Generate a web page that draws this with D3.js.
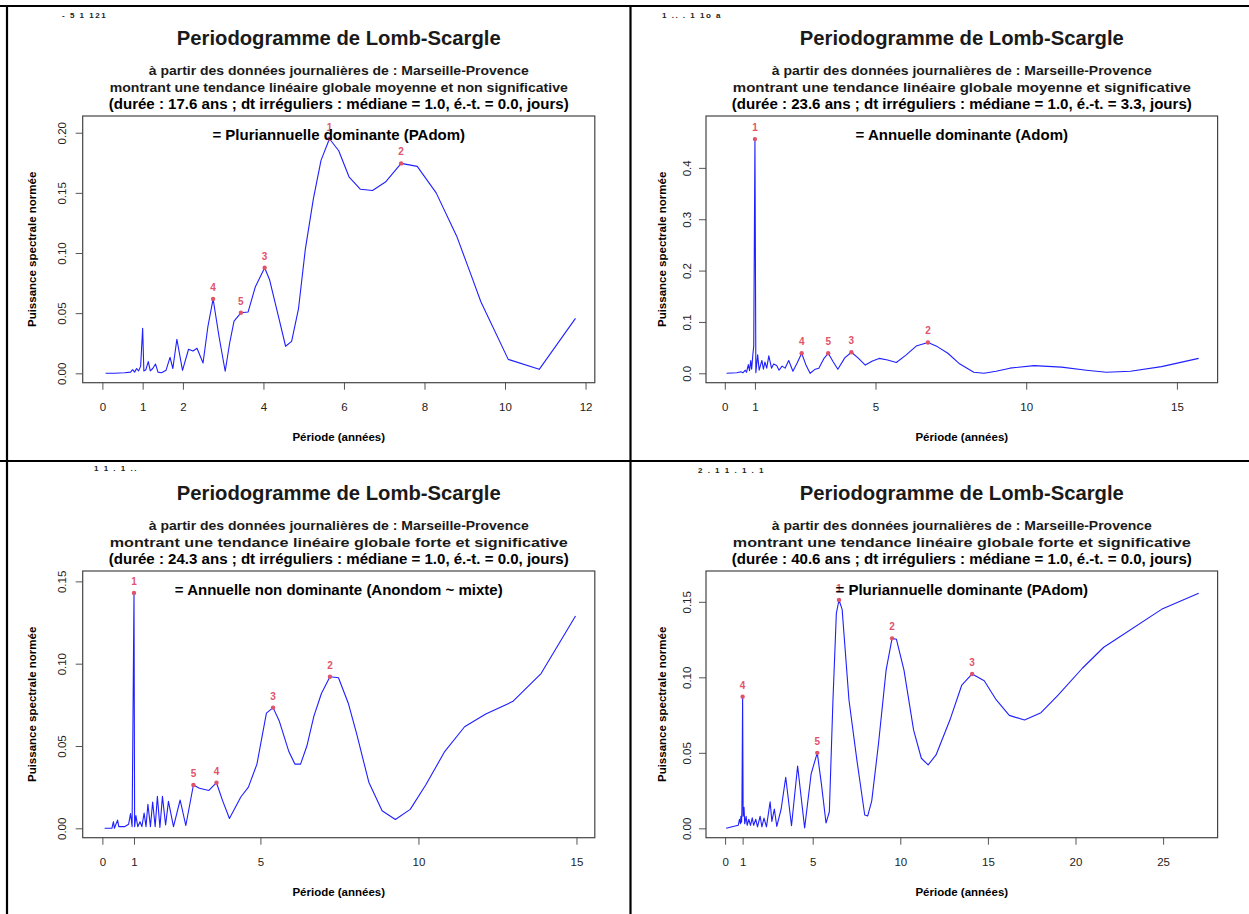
<!DOCTYPE html>
<html>
<head>
<meta charset="utf-8">
<script src="https://cdn.jsdelivr.net/npm/d3@7"></script>
<style>
  html, body { margin: 0; padding: 0; background: #fff; }
  svg { display: block; font-family: "Liberation Sans", Arial, sans-serif; }
</style>
</head>
<body>
<svg id="chart" width="1249" height="914"></svg>
<script>
// ---- data ----
const p1Period = [0.08, 0.30, 0.55, 0.70, 0.75, 0.80, 0.85, 0.90, 0.95, 1.00, 1.03, 1.08, 1.14, 1.19, 1.25, 1.32, 1.38, 1.47, 1.58, 1.68, 1.75, 1.85, 1.99, 2.14, 2.25, 2.35, 2.50, 2.62, 2.75, 2.90, 3.05, 3.16, 3.27, 3.44, 3.62, 3.80, 4.03, 4.15, 4.38, 4.55, 4.70, 4.87, 5.04, 5.24, 5.43, 5.64, 5.87, 6.13, 6.41, 6.71, 7.03, 7.42, 7.82, 8.29, 8.80, 9.14, 9.40, 10.08, 10.85, 11.75];
const p1Power = [0.000, 0.000, 0.0005, 0.001, 0.003, 0.001, 0.004, 0.002, 0.006, 0.0374, 0.002, 0.003, 0.0097, 0.002, 0.004, 0.0077, 0.001, 0.0005, 0.0025, 0.0133, 0.004, 0.0283, 0.0025, 0.020, 0.0185, 0.0208, 0.0086, 0.0387, 0.0618, 0.030, 0.0017, 0.025, 0.0434, 0.0503, 0.051, 0.072, 0.0878, 0.078, 0.0463, 0.0225, 0.0266, 0.0535, 0.103, 0.145, 0.177, 0.195, 0.185, 0.163, 0.153, 0.152, 0.159, 0.1745, 0.172, 0.150, 0.114, 0.0833, 0.0595, 0.0116, 0.0033, 0.0457];
const p1PeakRank = [1, 2, 3, 4, 5];
const p1PeakPeriod = [5.64, 7.42, 4.03, 2.75, 3.44];
const p1PeakPower = [0.195, 0.1745, 0.0878, 0.0618, 0.0503];

const p2Period = [0.06, 0.40, 0.53, 0.60, 0.68, 0.72, 0.78, 0.82, 0.86, 0.89, 0.93, 0.96, 1.00, 1.03, 1.09, 1.14, 1.23, 1.28, 1.33, 1.39, 1.46, 1.55, 1.62, 1.72, 1.80, 1.90, 2.00, 2.12, 2.26, 2.40, 2.55, 2.70, 2.83, 3.00, 3.12, 3.28, 3.43, 3.60, 3.75, 3.98, 4.20, 4.42, 4.66, 4.90, 5.12, 5.40, 5.69, 6.00, 6.35, 6.74, 7.05, 7.40, 7.80, 8.26, 8.60, 9.00, 9.46, 10.26, 11.17, 12.00, 12.66, 13.46, 14.49, 15.72];
const p2Power = [0.000, 0.001, 0.003, 0.001, 0.006, 0.002, 0.017, 0.005, 0.025, 0.008, 0.036, 0.053, 0.456, 0.001, 0.036, 0.006, 0.025, 0.008, 0.022, 0.010, 0.034, 0.010, 0.018, 0.015, 0.006, 0.014, 0.010, 0.025, 0.004, 0.020, 0.039, 0.015, 0.000, 0.008, 0.010, 0.028, 0.039, 0.022, 0.008, 0.030, 0.041, 0.030, 0.016, 0.024, 0.029, 0.026, 0.021, 0.035, 0.053, 0.060, 0.052, 0.039, 0.018, 0.002, 0.000, 0.004, 0.010, 0.015, 0.012, 0.006, 0.002, 0.004, 0.013, 0.029];
const p2PeakRank = [1, 2, 3, 4, 5];
const p2PeakPeriod = [1.00, 6.74, 4.20, 2.55, 3.43];
const p2PeakPower = [0.456, 0.060, 0.041, 0.039, 0.039];

const p3Period = [0.07, 0.30, 0.35, 0.38, 0.48, 0.52, 0.70, 0.83, 0.89, 0.94, 1.00, 1.02, 1.06, 1.12, 1.19, 1.25, 1.32, 1.38, 1.44, 1.52, 1.59, 1.67, 1.74, 1.82, 1.90, 2.00, 2.09, 2.25, 2.46, 2.64, 2.88, 3.07, 3.37, 3.61, 3.80, 4.02, 4.38, 4.62, 4.89, 5.19, 5.40, 5.60, 5.90, 6.09, 6.27, 6.47, 6.69, 6.93, 7.20, 7.47, 7.78, 8.05, 8.43, 8.85, 9.27, 9.74, 10.23, 10.83, 11.46, 12.13, 12.98, 13.88, 14.97];
const p3Power = [0.000, 0.000, 0.004, 0.000, 0.005, 0.001, 0.001, 0.0025, 0.009, 0.001, 0.143, 0.001, 0.0077, 0.001, 0.004, 0.001, 0.0093, 0.001, 0.0146, 0.001, 0.016, 0.001, 0.0194, 0.0005, 0.0194, 0.002, 0.0164, 0.001, 0.0172, 0.0017, 0.0263, 0.0243, 0.023, 0.0277, 0.017, 0.006, 0.019, 0.025, 0.039, 0.070, 0.0733, 0.065, 0.0466, 0.039, 0.039, 0.050, 0.068, 0.0819, 0.0921, 0.0915, 0.076, 0.057, 0.028, 0.0107, 0.0054, 0.0115, 0.0263, 0.0466, 0.0617, 0.0694, 0.077, 0.094, 0.129];
const p3PeakRank = [1, 2, 3, 4, 5];
const p3PeakPeriod = [1.00, 7.20, 5.40, 3.61, 2.88];
const p3PeakPower = [0.143, 0.0921, 0.0733, 0.0277, 0.0263];

const p4Period = [0.06, 0.40, 0.75, 0.82, 0.88, 0.90, 0.94, 0.96, 1.00, 1.03, 1.08, 1.12, 1.20, 1.26, 1.35, 1.45, 1.55, 1.63, 1.75, 1.85, 2.00, 2.10, 2.22, 2.36, 2.57, 2.67, 2.81, 2.95, 3.20, 3.46, 3.79, 4.14, 4.54, 4.91, 5.26, 5.50, 5.76, 5.95, 6.15, 6.35, 6.50, 6.68, 7.07, 7.53, 7.97, 8.14, 8.37, 8.76, 9.19, 9.53, 9.78, 10.21, 10.76, 11.20, 11.59, 12.04, 12.83, 13.51, 14.10, 14.79, 15.48, 16.22, 17.09, 18.03, 19.02, 20.39, 21.61, 22.16, 24.91, 27.03];
const p4Power = [0.000, 0.001, 0.002, 0.006, 0.003, 0.008, 0.004, 0.0125, 0.0872, 0.008, 0.0139, 0.003, 0.008, 0.002, 0.006, 0.002, 0.007, 0.002, 0.006, 0.001, 0.008, 0.001, 0.0068, 0.001, 0.0176, 0.0046, 0.0128, 0.0013, 0.0128, 0.0338, 0.0017, 0.0413, 0.0002, 0.036, 0.050, 0.0291, 0.0035, 0.011, 0.0828, 0.1424, 0.1512, 0.145, 0.085, 0.0445, 0.0088, 0.0082, 0.0182, 0.0565, 0.1048, 0.1258, 0.1252, 0.1048, 0.065, 0.0464, 0.042, 0.0486, 0.0717, 0.0949, 0.1022, 0.0977, 0.085, 0.0748, 0.0717, 0.0766, 0.0883, 0.106, 0.1199, 0.124, 0.145, 0.1556];
const p4PeakRank = [1, 2, 3, 4, 5];
const p4PeakPeriod = [6.50, 9.53, 14.10, 1.00, 5.26];
const p4PeakPower = [0.1512, 0.1258, 0.1022, 0.0872, 0.050];

// tick labels
const p1XTicks = [0, 1, 2, 4, 6, 8, 10, 12];
const p2XTicks = [0, 1, 5, 10, 15];
const p3XTicks = [0, 1, 5, 10, 15];
const p4XTicks = [0, 1, 5, 10, 15, 20, 25];
const p1YTicks = [0, 0.05, 0.10, 0.15, 0.20];
const p2YTicks = [0, 0.1, 0.2, 0.3, 0.4];
const p3YTicks = [0, 0.05, 0.10, 0.15];
const p4YTicks = [0, 0.05, 0.10, 0.15];

// texts
const mainTitle = "Periodogramme de Lomb-Scargle";
const sourceLine = "à partir des données journalières de : Marseille-Provence";
const trendLines = [
  "montrant une tendance linéaire globale moyenne et non significative",
  "montrant une tendance linéaire globale moyenne et significative",
  "montrant une tendance linéaire globale forte et significative",
  "montrant une tendance linéaire globale forte et significative"
];
const durationLines = [
  "(durée : 17.6 ans ; dt irréguliers : médiane = 1.0, é.-t. = 0.0, jours)",
  "(durée : 23.6 ans ; dt irréguliers : médiane = 1.0, é.-t. = 3.3, jours)",
  "(durée : 24.3 ans ; dt irréguliers : médiane = 1.0, é.-t. = 0.0, jours)",
  "(durée : 40.6 ans ; dt irréguliers : médiane = 1.0, é.-t. = 0.0, jours)"
];
const classLabels = [
  "= Pluriannuelle dominante (PAdom)",
  "= Annuelle dominante (Adom)",
  "= Annuelle non dominante (Anondom ~ mixte)",
  "= Pluriannuelle dominante (PAdom)"
];
const cornerLabels = ["- 5 1 121", "1 .. . 1 1o a", "1 1 . 1 ..", "2 . 1 1 . 1 . 1"];
const xTitle = "Période (années)";
const yTitle = "Puissance spectrale normée";

// ---- layout ----
const panels = [
  { period: p1Period, power: p1Power, rank: p1PeakRank, pkX: p1PeakPeriod, pkY: p1PeakPower,
    xTicks: p1XTicks, yTicks: p1YTicks, yFmt: ".2f",
    oy: 0, left: 82.7, right: 594.8, xDom: [-0.489, 12.23], yDom: [-0.0078, 0.2139], labX: 61.7, titX: 31.7 },
  { period: p2Period, power: p2Power, rank: p2PeakRank, pkX: p2PeakPeriod, pkY: p2PeakPower,
    xTicks: p2XTicks, yTicks: p2YTicks, yFmt: ".1f",
    oy: 0, left: 706, right: 1217.6, xDom: [-0.624, 16.35], yDom: [-0.0183, 0.501], labX: 686.7, titX: 661.7 },
  { period: p3Period, power: p3Power, rank: p3PeakRank, pkX: p3PeakPeriod, pkY: p3PeakPower,
    xTicks: p3XTicks, yTicks: p3YTicks, yFmt: ".2f",
    oy: 455, left: 82.7, right: 594.8, xDom: [-0.623, 15.58], yDom: [-0.0057, 0.1563], labX: 61.7, titX: 31.7 },
  { period: p4Period, power: p4Power, rank: p4PeakRank, pkX: p4PeakPeriod, pkY: p4PeakPower,
    xTicks: p4XTicks, yTicks: p4YTicks, yFmt: ".2f",
    oy: 455, left: 706, right: 1217.6, xDom: [-1.09, 28.11], yDom: [-0.0062, 0.1704], labX: 686.7, titX: 661.7 }
];
const cornerPos = [[62, 18], [662, 18], [94, 471], [698, 473]];

const svg = d3.select("#chart");
svg.append("rect").attr("width", 1249).attr("height", 914).attr("fill", "#fff");

// table borders round the four pictures
const borders = svg.append("g").attr("stroke", "#000").attr("stroke-width", 2.2);
borders.append("line").attr("x1", 0).attr("x2", 1249).attr("y1", 6).attr("y2", 6);
borders.append("line").attr("x1", 0).attr("x2", 1249).attr("y1", 461).attr("y2", 461);
borders.append("line").attr("x1", 7).attr("x2", 7).attr("y1", 5).attr("y2", 914);
borders.append("line").attr("x1", 630.5).attr("x2", 630.5).attr("y1", 5).attr("y2", 914);

panels.forEach((p, i) => {
  const top = 116 + p.oy, bottom = 382.7 + p.oy;
  const cx = (p.left + p.right) / 2;
  const x = d3.scaleLinear().domain(p.xDom).range([p.left, p.right]);
  const y = d3.scaleLinear().domain(p.yDom).range([bottom, top]);
  const g = svg.append("g");

  // headings
  g.append("text").attr("x", cornerPos[i][0]).attr("y", cornerPos[i][1])
    .attr("font-size", 8).attr("font-weight", "bold").attr("letter-spacing", 1.5)
    .attr("fill", "#222").text(cornerLabels[i]);
  g.append("text").attr("x", cx).attr("y", 45 + p.oy).attr("text-anchor", "middle")
    .attr("font-size", 20).attr("font-weight", "bold").attr("fill", "#1a1a1a")
    .attr("textLength", 324).attr("lengthAdjust", "spacingAndGlyphs").text(mainTitle);
  g.append("text").attr("x", cx).attr("y", 74.5 + p.oy).attr("text-anchor", "middle")
    .attr("font-size", 13).attr("font-weight", "bold").attr("fill", "#1a1a1a")
    .attr("textLength", 380).attr("lengthAdjust", "spacingAndGlyphs").text(sourceLine);
  g.append("text").attr("x", cx).attr("y", 91.5 + p.oy).attr("text-anchor", "middle")
    .attr("font-size", 13).attr("font-weight", "bold").attr("fill", "#1a1a1a")
    .attr("textLength", 458).attr("lengthAdjust", "spacingAndGlyphs").text(trendLines[i]);
  g.append("text").attr("x", cx).attr("y", 108.5 + p.oy).attr("text-anchor", "middle")
    .attr("font-size", 14.5).attr("font-weight", "bold").attr("fill", "#000")
    .attr("textLength", 460).attr("lengthAdjust", "spacingAndGlyphs").text(durationLines[i]);

  // x axis
  const xa = g.append("g").attr("transform", `translate(0,${bottom})`)
    .call(d3.axisBottom(x).tickValues(p.xTicks).tickSize(7).tickFormat(d3.format("d")));
  xa.select(".domain").remove();
  xa.selectAll("line").attr("stroke", "#555");
  xa.selectAll("text").attr("y", 24).attr("dy", "0.35em")
    .attr("font-size", 11.5).attr("fill", "#222").attr("font-family", "Liberation Sans, Arial, sans-serif");

  // y axis
  const ya = g.append("g").attr("transform", `translate(${p.left},0)`)
    .call(d3.axisLeft(y).tickValues(p.yTicks).tickSize(7).tickFormat(d3.format(p.yFmt)));
  ya.select(".domain").remove();
  ya.selectAll("line").attr("stroke", "#555");
  ya.selectAll("text").attr("x", null).attr("dy", "0.35em").attr("text-anchor", "middle")
    .attr("transform", `translate(${p.labX - p.left},0) rotate(-90)`)
    .attr("font-size", 11.5).attr("fill", "#222").attr("font-family", "Liberation Sans, Arial, sans-serif");

  // axis titles
  g.append("text").attr("x", cx).attr("y", 441 + p.oy).attr("text-anchor", "middle")
    .attr("font-size", 11.5).attr("font-weight", "bold").text(xTitle);
  g.append("text").attr("transform", `translate(${p.titX},${(top + bottom) / 2}) rotate(-90)`)
    .attr("dy", "0.35em").attr("text-anchor", "middle")
    .attr("font-size", 11.5).attr("font-weight", "bold").text(yTitle);

  // periodogram line
  const pts = p.period.map((d, k) => [d, p.power[k]]);
  g.append("path").datum(pts)
    .attr("fill", "none").attr("stroke", "#1f1fff").attr("stroke-width", 1.1)
    .attr("stroke-linejoin", "round")
    .attr("d", d3.line().x(d => x(d[0])).y(d => y(d[1])));

  // ranked peaks (drawn under the class label, as in the original)
  const peaks = p.rank.map((r, k) => ({ r, px: p.pkX[k], pw: p.pkY[k] }));
  g.selectAll("circle.pk").data(peaks).join("circle").attr("class", "pk")
    .attr("cx", d => x(d.px)).attr("cy", d => y(d.pw)).attr("r", 2.2).attr("fill", "#DF536B");
  g.selectAll("text.pk").data(peaks).join("text").attr("class", "pk")
    .attr("x", d => x(d.px)).attr("y", d => y(d.pw) - 8).attr("text-anchor", "middle")
    .attr("font-size", 10).attr("font-weight", "bold").attr("fill", "#DF536B").text(d => d.r);

  // class label
  g.append("text").attr("x", cx).attr("y", 140 + p.oy).attr("text-anchor", "middle")
    .attr("font-size", 15).attr("font-weight", "bold").attr("fill", "#000").text(classLabels[i]);

  // plot frame
  g.append("rect").attr("x", p.left).attr("y", top)
    .attr("width", p.right - p.left).attr("height", bottom - top)
    .attr("fill", "none").attr("stroke", "#444").attr("stroke-width", 1.2);
});
</script>
</body>
</html>
